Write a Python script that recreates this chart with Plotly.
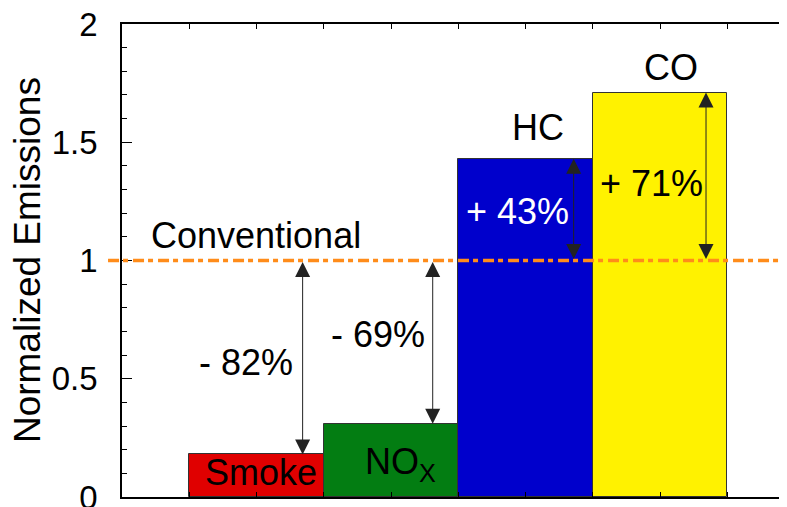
import plotly.graph_objects as go

# ---- data ----
categories = ["Smoke", "NO<sub>X</sub>", "HC", "CO"]
values = [0.18, 0.31, 1.43, 1.71]
conventional = 1.0
change_labels = ["- 82%", "- 69%", "+ 43%", "+ 71%"]
y_ticks = [0, 0.5, 1, 1.5, 2]
y_tick_text = ["0", "0.5", "1", "1.5", "2"]

bar_colors = ["#e00000", "#037d12", "#0000cc", "#fff200"]
FONT = "Liberation Sans, Arial, sans-serif"

# the page body has an 8px default margin; compensate so the plot lands in place
OFF = 8

x_pos = list(range(len(categories)))

fig = go.Figure()
fig.add_trace(go.Bar(
    x=x_pos, y=values, width=1.0,
    marker=dict(color=bar_colors, line=dict(color="#333333", width=1)),
    showlegend=False, hoverinfo="skip",
))

# conventional reference line (dash-dot orange), extends slightly left of axis
fig.add_shape(type="line", xref="paper", yref="y",
              x0=-0.021, x1=1.0, y0=conventional, y1=conventional,
              line=dict(color="#ff8c1a", width=3.5, dash="11px,4px,5px,5px"),
              layer="above")

# right-side tick marks (partially visible in reference)
for t in y_ticks[1:-1]:
    fig.add_shape(type="line", xref="paper", yref="y",
                  x0=1 - 5 / 665, x1=1.0, y0=t, y1=t,
                  line=dict(color="#777777", width=1.5), layer="above")

annotations = []
# double-headed arrows between conventional level and bar tops
arrow_offsets = [0.343, 0.31, 0.358, 0.342]
for i, v in enumerate(values):
    xa = x_pos[i] + arrow_offsets[i]
    annotations.append(dict(
        x=xa, y=v, ax=xa, ay=conventional, xref="x", yref="y",
        axref="x", ayref="y", text="", showarrow=True,
        arrowhead=2, startarrowhead=2, arrowside="end+start",
        arrowsize=3, startarrowsize=3, arrowwidth=1,
        arrowcolor="#222222", standoff=0, startstandoff=0,
    ))

# percentage labels
pct_pos = [(-0.08, 0.569), (0.90, 0.687), (1.944, 1.207), (2.933, 1.326)]
pct_colors = ["black", "black", "white", "black"]
for (px, py), txt, c in zip(pct_pos, change_labels, pct_colors):
    annotations.append(dict(x=px, y=py, xref="x", yref="y", text=txt,
                            showarrow=False, xanchor="center", yanchor="middle",
                            font=dict(family=FONT, size=36, color=c)))

# category labels
cat_pos = [(0.03, 0.104, "middle"), (1.067, 0.246, "top"),
           (2.093, 1.563, "middle"), (3.078, 1.814, "middle")]
for (cx, cy, ya), name in zip(cat_pos, categories):
    annotations.append(dict(x=cx, y=cy, xref="x", yref="y", text=name,
                            showarrow=False, xanchor="center", yanchor=ya,
                            font=dict(family=FONT, size=36, color="black")))

# "Conventional" label
annotations.append(dict(x=-0.8, y=1.106, xref="x", yref="y", text="Conventional",
                        showarrow=False, xanchor="left", yanchor="middle",
                        font=dict(family=FONT, size=36, color="black")))

# y-axis title
annotations.append(dict(x=-0.142, y=0.5, xref="paper", yref="paper",
                        text="Normalized Emissions", textangle=-90,
                        showarrow=False, xanchor="center", yanchor="middle",
                        font=dict(family=FONT, size=37, color="black")))

fig.update_layout(
    width=787 - OFF, height=507 - OFF,
    margin=dict(l=122 - OFF, r=0, t=24 - OFF, b=10, autoexpand=False),
    paper_bgcolor="white", plot_bgcolor="white",
    bargap=0,
    annotations=annotations,
    xaxis=dict(range=[-1, 3.944], showticklabels=False, showgrid=False,
               zeroline=False, showline=True, linecolor="black", linewidth=1.5,
               mirror="ticks", ticks="inside", ticklen=5, tickcolor="black",
               tickmode="linear", tick0=-0.5, dtick=0.5, automargin=False),
    yaxis=dict(range=[0, 2], showgrid=False, zeroline=False, showline=True,
               linecolor="black", linewidth=1.5, ticks="inside", ticklen=10,
               tickcolor="black", tickvals=y_ticks, ticktext=y_tick_text,
               tickfont=dict(family=FONT, size=33, color="black"),
               ticklabelstandoff=16, ticklabeloverflow="allow", automargin=False,
               minor=dict(dtick=0.1, ticks="inside", ticklen=5, tickcolor="black")),
)

fig.write_html("out.html")
